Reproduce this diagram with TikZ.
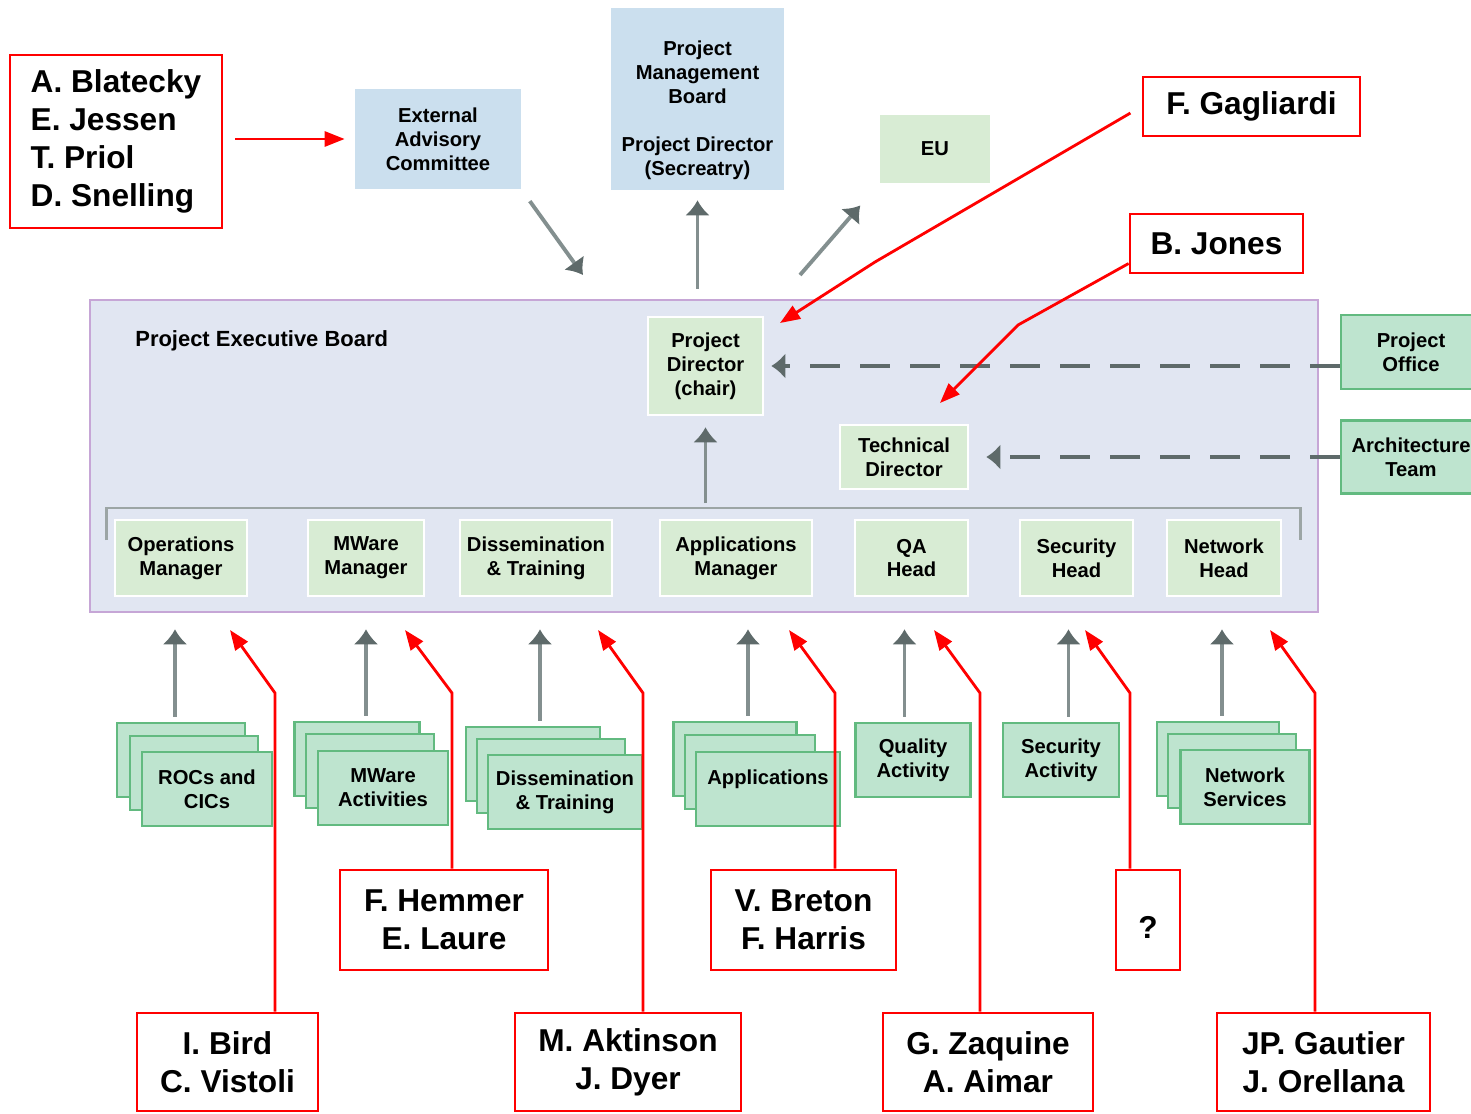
\documentclass[tikz,border=0pt]{standalone}
\usepackage{fontspec}
\setmainfont{Liberation Sans}
\usetikzlibrary{arrows.meta}
\definecolor{boardblue}{HTML}{CBDFEE}
\definecolor{pebfill}{HTML}{E1E6F2}
\definecolor{pebedge}{HTML}{C6A6D6}
\definecolor{palegreen}{HTML}{D8ECD4}
\definecolor{teamgreen}{HTML}{BEE4CF}
\definecolor{teamedge}{HTML}{62BA80}
\definecolor{arrowgray}{HTML}{838F8F}
\definecolor{dashgray}{HTML}{5E6A6A}
\newcommand{\orgfont}{\fontsize{11.5}{13.6}\selectfont\bfseries}
\newcommand{\whofont}{\fontsize{18}{21.5}\selectfont\bfseries}
\tikzset{%
  pebbox/.style   = {fill=pebfill, draw=pebedge, line width=1.2pt,
    minimum width=24.56cm, minimum height=6.24cm},
  bluebox/.style  = {fill=boardblue, align=center, font=\orgfont, inner sep=2pt},
  palebox/.style  = {fill=palegreen, draw=white, line width=1.5pt, align=center,
    font=\orgfont, inner sep=2pt},
  teambox/.style  = {fill=teamgreen, draw=teamedge, line width=1.5pt, align=center,
    font=\orgfont, inner sep=2pt},
  actbox/.style   = {teambox, minimum height=1.48cm},
  mgrbox/.style   = {palebox, minimum height=1.52cm},
  namebox/.style  = {draw=red, line width=1.6pt, fill=white, align=center,
    font=\whofont, inner sep=2pt},
  garrow/.style   = {draw=arrowgray, line width=2.2pt,
    -{Latex[length=0.3cm, width=0.5cm, color=dashgray]}},
  dasharrow/.style = {draw=dashgray, line width=2.6pt, dash pattern=on 0.6cm off 0.4cm,
    -{Latex[length=0.28cm, width=0.52cm]}},
  bracket/.style  = {draw=arrowgray!80, line width=1.6pt},
  rarrow/.style   = {draw=red, line width=1.6pt, -{Triangle[length=0.4cm, width=0.3cm]}}
}
\begin{document}
\begin{tikzpicture}[x=0.02cm, y=-0.02cm]
  \useasboundingbox (0,0) rectangle (1471,1113);

  % executive board
  \draw node at (704,456) [pebbox] (peb) {};
  \draw node at (135,341) [anchor=west, inner sep=0pt, font=\fontsize{12.5}{15}\selectfont\bfseries] (peblabel) {Project Executive Board};

  % boards above
  \draw node at (438,139) [bluebox, minimum width=3.32cm, minimum height=2cm] (ext) {External\\Advisory\\Committee};
  \draw node at (697.5,99) [bluebox, minimum width=3.46cm, minimum height=3.64cm] (pmb) {\rule{0pt}{21pt}Project\\Management\\Board\\[13.6pt]Project Director\\(Secreatry)};
  \draw node at (935,149) [palebox, draw=none, minimum width=2.2cm, minimum height=1.36cm] (eu) {EU};

  % members of the board
  \draw node at (705.5,366) [palebox, minimum width=2.3cm, minimum height=1.96cm] (pdir) {Project\\Director\\(chair)};
  \draw node at (904,457) [palebox, minimum width=2.56cm, minimum height=1.28cm] (tdir) {Technical\\Director};
  \draw node at (181,558) [mgrbox, minimum width=2.64cm] (ops) {Operations\\Manager};
  \draw node at (366,558) [mgrbox, minimum width=2.32cm] (mwm) {MWare\\Manager};
  \draw node at (536,558) [mgrbox, minimum width=3.04cm] (dtm) {Dissemination\\\& Training};
  \draw node at (736,558) [mgrbox, minimum width=3.04cm] (apm) {Applications\\Manager};
  \draw node at (911.5,558) [mgrbox, minimum width=2.26cm] (qah) {QA\\Head};
  \draw node at (1076.5,558) [mgrbox, minimum width=2.26cm] (sech) {Security\\Head};
  \draw node at (1224,558) [mgrbox, minimum width=2.28cm] (neth) {Network\\Head};

  % offices on the right
  \draw node at (1411,352) [teambox, minimum width=2.8cm, minimum height=1.48cm] (poff) {Project\\Office};
  \draw node at (1411,457) [teambox, minimum width=2.8cm, minimum height=1.46cm] (arch) {Architecture\\Team};

  % activities (stacked)
  \draw node at (181,760) [actbox, minimum width=2.56cm] (rocsA) {};
  \draw node at (194,773) [actbox, minimum width=2.56cm] (rocsB) {};
  \draw node at (207,789) [actbox, minimum width=2.6cm] (rocs) {ROCs and\\CICs};
  \draw node at (357,759) [actbox, minimum width=2.5cm] (mwaA) {};
  \draw node at (370,771) [actbox, minimum width=2.56cm] (mwaB) {};
  \draw node at (383,788) [actbox, minimum width=2.6cm] (mwa) {MWare\\Activities};
  \draw node at (533,764) [actbox, minimum width=2.68cm] (dsA) {};
  \draw node at (551,776) [actbox, minimum width=2.96cm] (dsB) {};
  \draw node at (565,792) [actbox, minimum width=3.08cm] (ds) {Dissemination\\\& Training};
  \draw node at (735,759) [actbox, minimum width=2.46cm] (apA) {};
  \draw node at (750,772) [actbox, minimum width=2.6cm] (apB) {};
  \draw node at (768,789) [actbox, minimum width=2.88cm] (ap) {Applications\\\mbox{}};
  \draw node at (913,760) [actbox, minimum width=2.3cm] (qua) {Quality\\Activity};
  \draw node at (1061,760) [actbox, minimum width=2.32cm] (sec) {Security\\Activity};
  \draw node at (1218,759) [actbox, minimum width=2.44cm] (netA) {};
  \draw node at (1232,771) [actbox, minimum width=2.56cm] (netB) {};
  \draw node at (1245,787) [actbox, minimum width=2.58cm] (net) {Network\\Services};

  % people
  \draw node at (116,141.5) [namebox, align=left, minimum width=4.24cm, minimum height=3.46cm] (blat) {A. Blatecky\\E. Jessen\\T. Priol\\D. Snelling};
  \draw node at (1251.5,106.5) [namebox, minimum width=4.34cm, minimum height=1.18cm] (gagl) {F. Gagliardi};
  \draw node at (1216.5,243.5) [namebox, minimum width=3.46cm, minimum height=1.18cm] (jones) {B. Jones};
  \draw node at (227.5,1062) [namebox, minimum width=3.62cm, minimum height=1.96cm] (bird) {I. Bird\\C. Vistoli};
  \draw node at (444,920) [namebox, minimum width=4.16cm, minimum height=2cm] (hemmer) {F. Hemmer\\E. Laure};
  \draw node at (628,1062) [namebox, minimum width=4.52cm, minimum height=1.96cm] (akt) {M. Aktinson\\J. Dyer};
  \draw node at (803.5,920) [namebox, minimum width=3.7cm, minimum height=2cm] (breton) {V. Breton\\F. Harris};
  \draw node at (988,1062) [namebox, minimum width=4.2cm, minimum height=1.96cm] (zaq) {G. Zaquine\\A. Aimar};
  \draw node at (1148,920) [namebox, minimum width=1.28cm, minimum height=2cm] (qm) {\mbox{}\\?};
  \draw node at (1323.5,1062) [namebox, minimum width=4.26cm, minimum height=1.96cm] (gaut) {JP. Gautier\\J. Orellana};

  % grey connectors
  \coordinate (pebIn) at (583,275);
  \coordinate (pebOut) at (800,275);
  \coordinate (brk) at (708,508);
  \draw[garrow, shorten <=0.29cm] (ext.south east) -- (pebIn);
  \draw[garrow, shorten <=0.2cm, shorten >=0.2cm] (pmb.south |- peb.north) -- (pmb.south);
  \draw[garrow, shorten >=0.56cm] (pebOut) -- (eu.south west);
  \draw[bracket] ([xshift=-0.14cm,yshift=0.36cm]ops.west) |- (brk) -| ([xshift=0.36cm,yshift=0.36cm]neth.east);
  \draw[garrow, shorten <=0.1cm, shorten >=0.22cm] (pdir.south |- brk) -- (pdir.south);
  \draw[dasharrow, shorten >=0.14cm] (poff.west |- pdir.east) -- (pdir.east);
  \draw[dasharrow, shorten >=0.34cm] (arch.west |- tdir.east) -- (tdir.east);
  \foreach \mgr/\act/\dx in {ops/rocsA/-6, mwm/mwaA/0, dtm/dsA/4, apm/apA/12, qah/qua/-7, sech/sec/-8, neth/netA/-2}
    \draw[garrow, shorten <=0.1cm, shorten >=0.64cm] ([xshift=\dx*0.02cm]\mgr.south |- \act.north) -- ([xshift=\dx*0.02cm]\mgr.south);

  % red pointers
  \coordinate (bGagl) at (875,262);
  \coordinate (tGagl) at (780,323);
  \coordinate (bJones) at (1018,325);
  \coordinate (tJones) at (940,403);
  \draw[rarrow, shorten <=0.24cm, shorten >=0.2cm] (blat.east |- ext.west) -- (ext.west);
  \draw[rarrow, shorten <=0.26cm] (gagl.west) -- (bGagl) -- (tGagl);
  \draw[rarrow] ([yshift=-0.4cm]jones.west) -- (bJones) -- (tJones);
  \foreach \who/\bx/\tx in {bird/275/230, hemmer/452/405, akt/643/598, breton/835/789, zaq/980/934, qm/1130/1085, gaut/1315/1270}{
    \coordinate (b\who) at (\bx,693);
    \coordinate (t\who) at (\tx,630);
    \draw[rarrow] (\who.north -| b\who) -- (b\who) -- (t\who);
  }
\end{tikzpicture}
\end{document}
